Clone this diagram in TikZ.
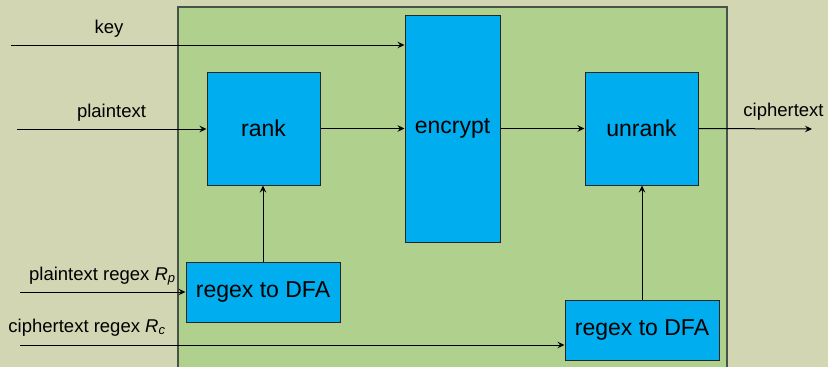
\documentclass[tikz,border=0pt]{standalone}
\usepackage{fontspec}
\setmainfont{Liberation Sans}
\usetikzlibrary{arrows.meta}
\definecolor{bgtan}{HTML}{D2D6B3}
\definecolor{bggreen}{HTML}{B0D18D}
\definecolor{boxblue}{HTML}{00ADEE}
\definecolor{edgegrey}{HTML}{46524A}
\tikzset{
  blk/.style={draw=black!85, line width=1pt, fill=boxblue, inner sep=0pt,
    font=\fontsize{23}{27}\selectfont},
  lbl/.style={anchor=base, inner sep=0pt, font=\fontsize{18.5}{22}\selectfont},
  arr/.style={line width=1pt, -{Stealth[length=7pt,width=6.5pt,inset=2.5pt]}},
  ln/.style={line width=1pt}
}
\begin{document}
\begin{tikzpicture}[x=1pt,y=-1pt]
\useasboundingbox (0,0) rectangle (828,367);
\clip (0,0) rectangle (828,367);
\fill[bgtan] (0,0) rectangle (828,367);
\draw[fill=bggreen, draw=edgegrey, line width=1.6pt] (178,7) rectangle (727,390);
% blocks
\node[blk, minimum width=113pt, minimum height=113pt] (rank) at (263.5,128.5) {rank};
\node[blk, minimum width=95pt, minimum height=227pt] (enc) at (452.5,128.5) {encrypt};
\node[blk, minimum width=113pt, minimum height=113pt] (unrank) at (641.5,128.5) {unrank};
\node[blk, minimum width=154pt, minimum height=60pt] (dfa1) at (263,292) {regex to DFA};
\node[blk, minimum width=154pt, minimum height=60pt] (dfa2) at (642,330) {regex to DFA};
% free ends
\coordinate (keyin) at (11,45);
\coordinate (ptin) at (17,129);
\coordinate (ctout) at (812,129);
\coordinate (prin) at (20,292);
\coordinate (crin) at (20,345);
% connectors
\draw[arr] (keyin) -- (keyin -| enc.west);
\draw[arr] (ptin) -- (ptin -| rank.west);
\draw[arr] (rank.east) -- (rank.east -| enc.west);
\draw[arr] (unrank.west -| enc.east) -- (unrank.west);
\draw[arr] (unrank.east) -- (ctout);
\draw[arr] (dfa1.north) -- (dfa1.north |- rank.south);
\draw[arr] (dfa2.north) -- (dfa2.north |- unrank.south);
\draw[arr] (prin) -- (prin -| dfa1.west);
\draw[arr] (crin) -- (crin -| dfa2.west);
% labels
\node[lbl] (lkey) at (109,33.3) {key};
\node[lbl] (lpt) at (111.5,117.3) {plaintext};
\node[lbl] (lct) at (783.5,116.7) {ciphertext};
\node[lbl] (lpr) at (102.4,280) {plaintext regex \textit{R}\textsubscript{\textit{p}}};
\node[lbl] (lcr) at (87,332) {ciphertext regex \textit{R}\textsubscript{\textit{c}}};
\end{tikzpicture}
\end{document}
